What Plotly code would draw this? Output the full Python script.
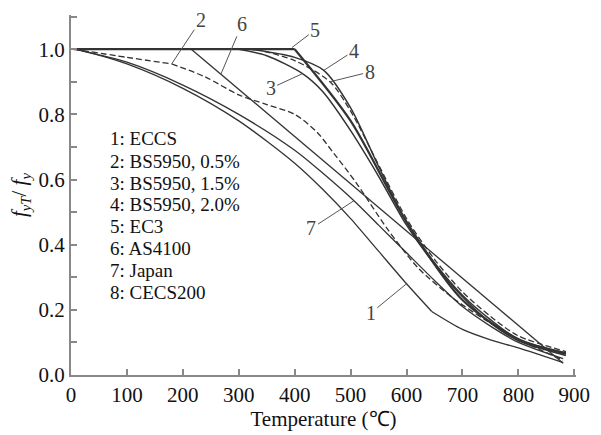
import plotly.graph_objects as go

# ---- data ----
eccs_T = [5, 20, 100, 200, 300, 400, 450, 500, 550, 600, 645, 700, 750, 800, 880]
eccs_f = [1.0, 0.995, 0.955, 0.88, 0.78, 0.65, 0.57, 0.48, 0.38, 0.28, 0.195, 0.14, 0.108, 0.083, 0.038]

bs05_T = [5, 100, 180, 240, 300, 350, 400, 440, 470, 510, 565, 620, 680, 740, 800, 880]
bs05_f = [1.0, 0.975, 0.955, 0.915, 0.86, 0.83, 0.80, 0.745, 0.68, 0.59, 0.45, 0.33, 0.24, 0.17, 0.11, 0.045]

bs15_T = [5, 300, 350, 414, 450, 500, 550, 600, 650, 700, 750, 800, 885]
bs15_f = [1.0, 1.0, 0.98, 0.925, 0.87, 0.75, 0.61, 0.46, 0.34, 0.24, 0.16, 0.105, 0.06]

bs20_T = [5, 320, 400, 452, 500, 550, 600, 650, 700, 750, 800, 885]
bs20_f = [1.0, 1.0, 0.975, 0.935, 0.82, 0.64, 0.47, 0.345, 0.245, 0.17, 0.11, 0.068]

ec3_T = [5, 400, 500, 600, 700, 800, 885]
ec3_f = [1.0, 1.0, 0.78, 0.47, 0.23, 0.11, 0.065]

as_T = [5, 215, 880]
as_f = [1.0, 1.0, 0.036]

jp_T = [5, 20, 100, 200, 300, 400, 450, 506, 550, 600, 650, 700, 750, 800, 880]
jp_f = [1.0, 0.995, 0.96, 0.89, 0.80, 0.69, 0.62, 0.535, 0.46, 0.375, 0.29, 0.21, 0.15, 0.10, 0.05]

cecs_T = [5, 330, 400, 463, 500, 550, 600, 650, 700, 750, 800, 885]
cecs_f = [1.0, 1.0, 0.965, 0.90, 0.81, 0.645, 0.48, 0.355, 0.255, 0.18, 0.12, 0.072]

legend_lines = ["1: ECCS", "2: BS5950, 0.5%", "3: BS5950, 1.5%", "4: BS5950, 2.0%",
                "5: EC3", "6: AS4100", "7: Japan", "8: CECS200"]
legend_y = [0.725, 0.656, 0.589, 0.522, 0.455, 0.388, 0.320, 0.253]
legend_x = 67

# curve labels: text, text position (T, f), arrow tip (T, f)
lab_text = ["1", "2", "3", "4", "5", "6", "7", "8"]
lab_pos = [(536, 0.19), (232, 1.09), (357, 0.88), (506, 0.995), (437, 1.06), (306, 1.078), (430, 0.45), (534, 0.93)]
lab_tip = [(600, 0.28), (180, 0.955), (414, 0.925), (452, 0.935), (395, 1.005), (268, 0.923), (506, 0.535), (463, 0.90)]

x_ticks = [0, 100, 200, 300, 400, 500, 600, 700, 800, 900]
y_ticks = [0.0, 0.2, 0.4, 0.6, 0.8, 1.0]

# ---- figure ----
LC = "#333333"
DASH = "6px,3px"
fig = go.Figure()
# (x, y, width, dash, break indices where the curve has a corner)
series = [
    (eccs_T, eccs_f, 1.3, "solid", [10]),
    (jp_T, jp_f, 1.3, "solid", []),
    (as_T, as_f, 1.3, "solid", [1]),
    (bs05_T, bs05_f, 1.3, DASH, [2]),
    (cecs_T, cecs_f, 1.3, DASH, [1]),
    (bs15_T, bs15_f, 1.5, "solid", [1]),
    (bs20_T, bs20_f, 1.5, "solid", [1]),
    (ec3_T, ec3_f, 2.2, "solid", [1]),
]
for xs, ys, w, d, brk in series:
    cuts = [0] + brk + [len(xs) - 1]
    for a, b in zip(cuts[:-1], cuts[1:]):
        seg_x = xs[a:b + 1]
        seg_y = ys[a:b + 1]
        flat = all(abs(v - seg_y[0]) < 1e-9 for v in seg_y) or len(seg_x) == 2
        fig.add_trace(go.Scatter(
            x=seg_x, y=seg_y, mode="lines",
            line=dict(color=LC, width=w, dash=d,
                      shape="linear" if flat else "spline", smoothing=0.8),
            showlegend=False, hoverinfo="skip"))

serif = "Liberation Serif"
for t, yv in zip(legend_lines, legend_y):
    fig.add_annotation(x=legend_x, y=yv, text=t, showarrow=False, xanchor="left", yanchor="middle",
                       font=dict(family=serif, size=19, color="#111111"))

for t, (px, py), (tx, ty) in zip(lab_text, lab_pos, lab_tip):
    fig.add_annotation(x=tx, y=ty, ax=px, ay=py, axref="x", ayref="y", text=t, showarrow=True,
                       arrowhead=0, arrowwidth=1, arrowcolor="#555555",
                       font=dict(family=serif, size=20, color="#444444"))

fig.update_layout(
    width=601, height=435,
    margin=dict(l=71, r=11, t=15, b=53),
    paper_bgcolor="white", plot_bgcolor="white",
    font=dict(family=serif, size=21, color="#111111"),
    xaxis=dict(range=[0, 903], tickvals=x_ticks, ticktext=[str(v) for v in x_ticks],
               ticklabeloverflow="allow",
               showgrid=False, zeroline=False, showline=True, linecolor="#888888", linewidth=2,
               ticks="inside", ticklen=6, tickcolor="#888888", tickwidth=2,
               tickfont=dict(family=serif, size=21),
               title=dict(text="Temperature (℃)", standoff=2, font=dict(family=serif, size=21))),
    yaxis=dict(range=[0, 1.105], tickvals=y_ticks, ticktext=["%.1f" % v for v in y_ticks],
               showgrid=False, zeroline=False, showline=True, linecolor="#888888", linewidth=2,
               ticks="inside", ticklen=6, tickcolor="#888888", tickwidth=2,
               tickfont=dict(family=serif, size=21),
               minor=dict(ticks="inside", ticklen=6, tickcolor="#888888", tickwidth=2, dtick=0.1, tick0=0),
               title=dict(text="<i>f</i><sub><i>yT</i></sub>/ <i>f</i><sub><i>y</i></sub>", standoff=6,
                          font=dict(family=serif, size=21))),
)

fig.write_html("out.html")
